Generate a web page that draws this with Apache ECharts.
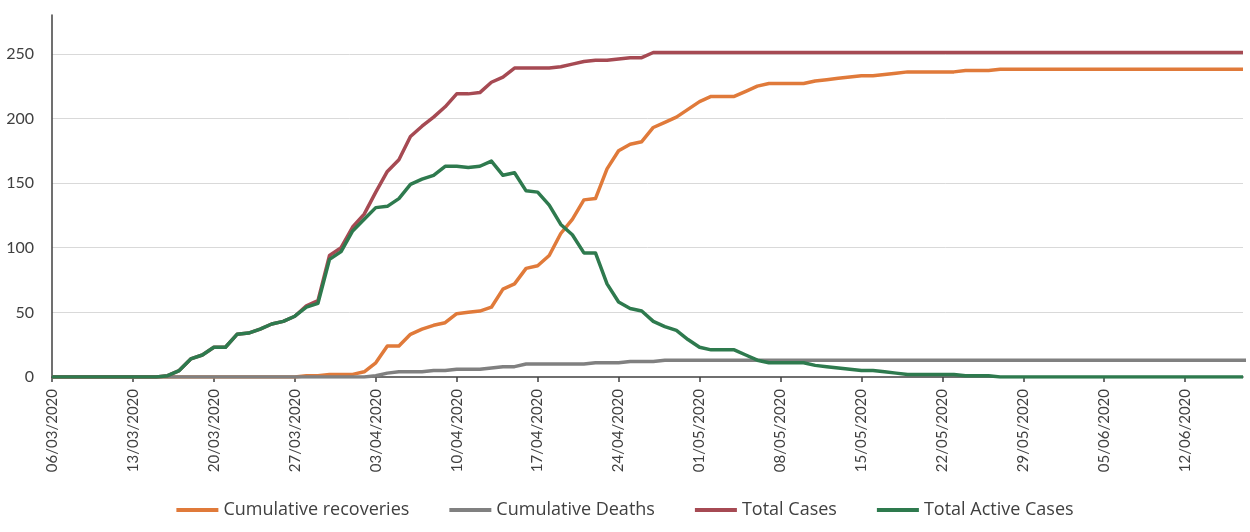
<!DOCTYPE html>
<html>
<head>
<meta charset="utf-8">
<script src="https://cdn.jsdelivr.net/npm/echarts@6/dist/echarts.min.js"></script>
<style>
html,body{margin:0;padding:0;background:#fff;}
#chart{width:1250px;height:532px;}
</style>
</head>
<body>
<div id="chart"></div>
<script>
const categories = [
'06/03/2020','07/03/2020','08/03/2020','09/03/2020','10/03/2020','11/03/2020','12/03/2020','13/03/2020','14/03/2020','15/03/2020',
'16/03/2020','17/03/2020','18/03/2020','19/03/2020','20/03/2020','21/03/2020','22/03/2020','23/03/2020','24/03/2020','25/03/2020',
'26/03/2020','27/03/2020','28/03/2020','29/03/2020','30/03/2020','31/03/2020',
'01/04/2020','02/04/2020','03/04/2020','04/04/2020','05/04/2020','06/04/2020','07/04/2020','08/04/2020','09/04/2020','10/04/2020',
'11/04/2020','12/04/2020','13/04/2020','14/04/2020','15/04/2020','16/04/2020','17/04/2020','18/04/2020','19/04/2020','20/04/2020',
'21/04/2020','22/04/2020','23/04/2020','24/04/2020','25/04/2020','26/04/2020','27/04/2020','28/04/2020','29/04/2020','30/04/2020',
'01/05/2020','02/05/2020','03/05/2020','04/05/2020','05/05/2020','06/05/2020','07/05/2020','08/05/2020','09/05/2020','10/05/2020',
'11/05/2020','12/05/2020','13/05/2020','14/05/2020','15/05/2020','16/05/2020','17/05/2020','18/05/2020','19/05/2020','20/05/2020',
'21/05/2020','22/05/2020','23/05/2020','24/05/2020','25/05/2020','26/05/2020','27/05/2020','28/05/2020','29/05/2020','30/05/2020','31/05/2020',
'01/06/2020','02/06/2020','03/06/2020','04/06/2020','05/06/2020','06/06/2020','07/06/2020','08/06/2020','09/06/2020','10/06/2020',
'11/06/2020','12/06/2020','13/06/2020','14/06/2020','15/06/2020','16/06/2020','17/06/2020'
];

const cumulativeRecoveries = [
0,0,0,0,0,0,0,0,0,0,0,0,0,0,0,0,0,0,0,0,0,0,
1,1,2,2,2,4,11,24,24,33,37,40,42,49,50,51,54,68,72,84,86,94,111,122,137,138,161,175,180,182,
193,197,201,207,213,217,217,217,221,225,227,227,227,227,229,230,231,232,233,233,234,235,236,236,236,236,236,237,237,237,
238,238,238,238,238,238,238,238,238,238,238,238,238,238,238,238,238,238,238,238,238,238
];

const cumulativeDeaths = [
0,0,0,0,0,0,0,0,0,0,0,0,0,0,0,0,0,0,0,0,0,0,0,0,0,0,0,0,
1,3,4,4,4,5,5,6,6,6,7,8,8,10,10,10,10,10,10,11,11,11,12,12,12,
13,13,13,13,13,13,13,13,13,13,13,13,13,13,13,13,13,13,13,13,13,13,13,13,13,13,13,13,13,13,13,13,13,13,13,13,13,13,13,13,13,13,13,13,13,13,13,13,13,13,13,13
];

const totalCases = [
0,0,0,0,0,0,0,0,0,0,
1,5,14,17,23,23,33,34,37,41,43,47,55,59,94,100,116,126,143,159,168,186,194,201,209,219,219,220,228,232,239,239,239,239,240,242,244,245,245,246,247,247,
251,251,251,251,251,251,251,251,251,251,251,251,251,251,251,251,251,251,251,251,251,251,251,251,251,251,
251,251,251,251,251,251,251,251,251,251,251,251,251,251,251,251,251,251,251,251,251,251,251,251,251,251
];

const totalActiveCases = [
0,0,0,0,0,0,0,0,0,0,
1,5,14,17,23,23,33,34,37,41,43,47,54,57,91,97,113,122,131,132,138,149,153,156,163,163,162,163,167,156,158,144,143,133,118,110,96,96,72,58,53,51,
43,39,36,29,23,21,21,21,17,13,11,11,11,11,9,8,7,6,5,5,4,3,2,2,2,2,2,1,1,1,
0,0,0,0,0,0,0,0,0,0,0,0,0,0,0,0,0,0,0,0,0,0
];

const yTicks = { min: 0, max: 280, interval: 50 };

const chart = echarts.init(document.getElementById('chart'), null, { renderer: 'canvas' });
const font = 'Lato, "Liberation Sans", sans-serif';
function line(name, data, color) {
  return {
    name, type: 'line', data, symbol: 'none', smooth: false,
    lineStyle: { color, width: 3.5, cap: 'butt', join: 'round' },
    itemStyle: { color },
    emphasis: { disabled: true },
    animation: false
  };
}
chart.setOption({
  animation: false,
  backgroundColor: '#ffffff',
  grid: { left: 52, right: 7, top: 15, bottom: 155, containLabel: false },
  legend: {
    bottom: 8,
    left: 'center',
    itemWidth: 42,
    itemHeight: 4,
    itemGap: 40,
    icon: 'rect',
    textStyle: { fontFamily: '"Open Sans", Lato, sans-serif', fontSize: 18, color: '#404040' },
    data: ['Cumulative recoveries', 'Cumulative Deaths', 'Total Cases', 'Total Active Cases']
  },
  xAxis: {
    type: 'category',
    data: categories,
    boundaryGap: false,
    axisLine: { lineStyle: { color: '#404040', width: 1.5 } },
    axisTick: { show: true, interval: 6, length: 5, lineStyle: { color: '#404040', width: 1.5 } },
    axisLabel: { interval: 6, rotate: 90, margin: 12, fontFamily: font, fontSize: 15, color: '#404040' },
    splitLine: { show: false }
  },
  yAxis: {
    type: 'value',
    min: yTicks.min, max: yTicks.max, interval: yTicks.interval,
    axisLine: { show: true, lineStyle: { color: '#404040', width: 1.5 } },
    axisTick: { show: false },
    axisLabel: { showMaxLabel: false, margin: 18, fontFamily: font, fontSize: 16, color: '#404040' },
    splitLine: { show: true, showMaxLine: false, showMinLine: false, lineStyle: { color: '#d9d9d9', width: 1 } }
  },
  series: [
    line('Cumulative recoveries', cumulativeRecoveries, '#E07A3A'),
    line('Cumulative Deaths', cumulativeDeaths, '#808080'),
    line('Total Cases', totalCases, '#A64A53'),
    line('Total Active Cases', totalActiveCases, '#2E7A4E')
  ]
});
</script>
</body>
</html>
